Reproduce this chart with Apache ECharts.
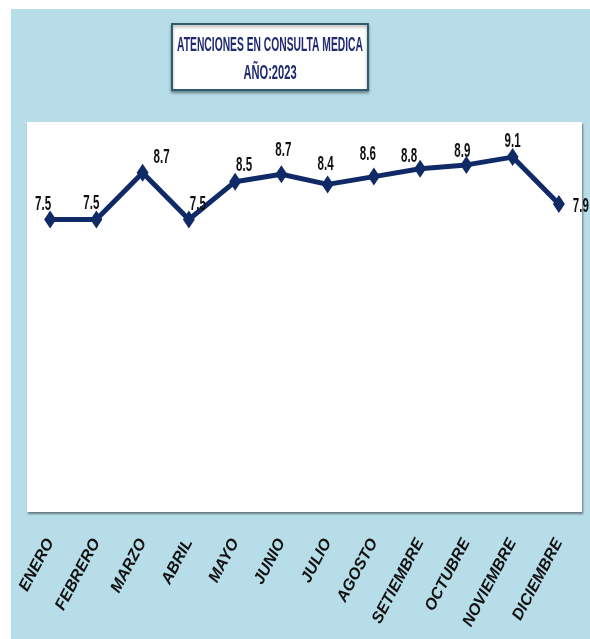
<!DOCTYPE html>
<html>
<head>
<meta charset="utf-8">
<script src="https://cdn.jsdelivr.net/npm/echarts@6/dist/echarts.min.js"></script>
<style>
  html, body { margin: 0; padding: 0; background: #fff; }
  #chart { width: 590px; height: 639px; }
</style>
</head>
<body>
<div id="chart"></div>
<script>
// datos del grafico
var meses = ['ENERO', 'FEBRERO', 'MARZO', 'ABRIL', 'MAYO', 'JUNIO', 'JULIO',
             'AGOSTO', 'SETIEMBRE', 'OCTUBRE', 'NOVIEMBRE', 'DICIEMBRE'];
var atenciones = [7.5, 7.5, 8.7, 7.5, 8.47, 8.66, 8.4, 8.6, 8.8, 8.9, 9.1, 7.9];
var titulo = ['ATENCIONES EN CONSULTA MEDICA', 'AÑO:2023'];

// desplazamiento de cada etiqueta respecto a su punto (como en el excel)
var nudge = [[-7, -15], [-5, -16], [19, -15], [9, -15], [9, -16], [2, -24],
             [-2, -20], [-6, -22], [-11, -13], [-4, -14], [0, -16], [22, 2]];

var dom = document.getElementById('chart');
var myChart = echarts.init(dom);

var navy = '#0f2a66';
var arial = '"Liberation Sans", Arial, sans-serif';

// etiquetas angostas (el grafico original esta comprimido a lo ancho)
function renderLabel(params, api) {
    var i = params.dataIndex;
    var pt = api.coord([api.value(0), api.value(1)]);
    return {
        type: 'text',
        x: pt[0] + nudge[i][0],
        y: pt[1] + nudge[i][1],
        scaleX: 0.55,
        style: {
            text: api.value(1).toFixed(1),
            font: 'bold 21px ' + arial,
            fill: '#111',
            align: 'center',
            verticalAlign: 'middle'
        }
    };
}

var option = {
    animation: false,
    graphic: [
        {
            type: 'rect',
            z: -10,
            shape: { x: 11, y: 9, width: 579, height: 630 },
            style: { fill: '#b7dde8' }
        },
        {
            type: 'rect',
            shape: { x: 172, y: 24, width: 196, height: 66 },
            style: {
                fill: '#fff',
                stroke: '#2f5b6c',
                lineWidth: 2,
                shadowBlur: 3,
                shadowOffsetY: 2,
                shadowColor: 'rgba(0,0,0,0.35)'
            }
        },
        {
            type: 'text',
            x: 270, y: 45,
            scaleX: 0.49,
            style: {
                text: titulo[0],
                font: 'bold 21px ' + arial,
                fill: '#1f2b6e',
                textAlign: 'center',
                textVerticalAlign: 'middle'
            }
        },
        {
            type: 'text',
            x: 270, y: 73,
            scaleX: 0.53,
            style: {
                text: titulo[1],
                font: 'bold 21px ' + arial,
                fill: '#1f2b6e',
                textAlign: 'center',
                textVerticalAlign: 'middle'
            }
        }
    ],
    grid: {
        left: 27,
        top: 122,
        width: 555,
        height: 390,
        show: true,
        backgroundColor: '#fff',
        borderWidth: 0,
        shadowColor: 'rgba(0,0,0,0.45)',
        shadowBlur: 2,
        shadowOffsetX: 1,
        shadowOffsetY: 2
    },
    xAxis: {
        type: 'category',
        data: meses,
        boundaryGap: true,
        axisLine: { show: false },
        axisTick: { show: false },
        splitLine: { show: false },
        axisLabel: {
            interval: 0,
            rotate: 62,
            margin: 28,
            color: '#111',
            fontStyle: 'italic',
            fontWeight: 'bold',
            fontSize: 16,
            fontFamily: arial
        }
    },
    yAxis: {
        type: 'value',
        min: 0,
        max: 10,
        show: false,
        splitLine: { show: false }
    },
    series: [
        {
            type: 'line',
            data: atenciones,
            symbol: 'diamond',
            symbolSize: [12, 18],
            lineStyle: { color: navy, width: 5 },
            itemStyle: { color: navy },
            z: 2
        },
        {
            type: 'custom',
            data: atenciones.map(function (v, i) { return [i, v]; }),
            renderItem: renderLabel,
            silent: true,
            z: 3
        }
    ]
};

myChart.setOption(option, true);
</script>
</body>
</html>
